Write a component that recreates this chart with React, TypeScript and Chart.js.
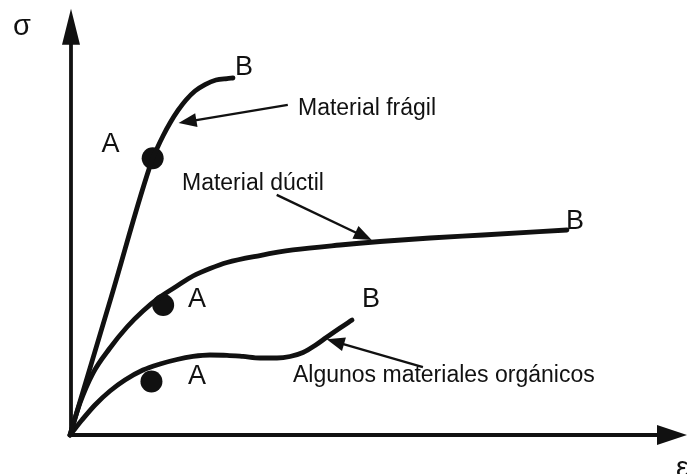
import React, { useEffect, useRef } from "react";
import { Chart, registerables } from "chart.js";

Chart.register(...registerables);

// Curves (strain x, stress y), arbitrary units 0..100
const brittleX = [0, 6.7, 13.4, 14.1, 15.07, 16.21, 17.5, 18.8, 20.26, 21.88, 23.66, 25.45, 26.42];
const brittleY = [0, 31.8, 63.6, 65.86, 68.74, 71.72, 74.6, 77.01, 79.08, 80.57, 81.61, 81.95, 82.07];

const ductileX = [0, 1.62, 3.73, 6.48, 9.24, 11.83, 14.59, 17.34, 19.94, 22.69, 25.45, 30.79, 36.14, 43.76, 50.24, 58.35, 66.94, 80.55];
const ductileY = [0, 7.36, 14.25, 20.0, 24.83, 28.51, 31.72, 34.25, 36.55, 38.28, 39.66, 41.26, 42.53, 43.68, 44.48, 45.29, 45.98, 47.13];

const organicX = [0, 1.94, 4.05, 6.48, 8.91, 11.83, 14.59, 17.34, 19.94, 22.69, 25.45, 28.04, 30.79, 33.55, 35.66, 37.76, 39.71, 41.65, 43.76, 45.71];
const organicY = [0, 3.45, 6.9, 10.11, 12.64, 14.94, 16.32, 17.36, 18.05, 18.39, 18.32, 18.05, 17.7, 17.7, 18.05, 18.97, 20.57, 22.53, 24.6, 26.44];

// Points "A"
const pointAX = [13.4, 15.1, 13.2];
const pointAY = [63.6, 29.9, 12.3];

// Letter labels
const letterTexts = ["A", "B", "A", "B", "A", "B"];
const letterX = [5.1, 26.74, 19.12, 80.39, 19.12, 47.33];
const letterY = [65.06, 82.76, 29.43, 47.36, 11.72, 29.43];

// Notes with arrows
const noteTexts = ["Material frágil", "Material dúctil", "Algunos materiales orgánicos"];
const noteX = [36.95, 18.15, 36.14];
const noteY = [73.56, 56.32, 12.18];
const arrowFromX = [35.3, 33.5, 57.2];
const arrowFromY = [75.9, 55.2, 15.6];
const arrowToX = [17.6, 48.9, 41.6];
const arrowToY = [71.7, 44.8, 22.0];

// Axis labels
const axisLabelTexts = ["σ", "ε"];
const axisLabelX = [-9.24, 98.2];
const axisLabelY = [91.95, -9.66];
const axisXEnd = 100;
const axisYEnd = 98;

const INK = "#111111";
const FONT = "'Liberation Sans', Arial, sans-serif";

function pts(xs: number[], ys: number[]) {
  return xs.map((x, i) => ({ x, y: ys[i] }));
}

function drawArrowHead(ctx: CanvasRenderingContext2D, fx: number, fy: number, tx: number, ty: number, len: number, half: number) {
  const ang = Math.atan2(ty - fy, tx - fx);
  const bx = tx - len * Math.cos(ang);
  const by = ty - len * Math.sin(ang);
  ctx.beginPath();
  ctx.moveTo(tx, ty);
  ctx.lineTo(bx + half * Math.sin(ang), by - half * Math.cos(ang));
  ctx.lineTo(bx - half * Math.sin(ang), by + half * Math.cos(ang));
  ctx.closePath();
  ctx.fill();
}

const sketchPlugin = {
  id: "sketch",
  beforeDatasetsDraw(chart: any) {
    const { ctx, scales } = chart;
    const px = (v: number) => scales.x.getPixelForValue(v);
    const py = (v: number) => scales.y.getPixelForValue(v);
    ctx.save();
    ctx.strokeStyle = INK;
    ctx.fillStyle = INK;
    ctx.lineWidth = 3.8;
    ctx.lineCap = "butt";
    // y axis
    ctx.beginPath();
    ctx.moveTo(px(0) + 1, py(0) + 1.5);
    ctx.lineTo(px(0) + 1, py(axisYEnd) + 20);
    ctx.stroke();
    drawArrowHead(ctx, px(0) + 1, py(0), px(0) + 1, py(axisYEnd), 36, 9);
    // x axis
    ctx.beginPath();
    ctx.moveTo(px(0) - 1.5, py(0));
    ctx.lineTo(px(axisXEnd) - 20, py(0));
    ctx.stroke();
    drawArrowHead(ctx, px(0), py(0), px(axisXEnd), py(0), 30, 10);
    ctx.restore();
  },
  afterDatasetsDraw(chart: any) {
    const { ctx, scales } = chart;
    const px = (v: number) => scales.x.getPixelForValue(v);
    const py = (v: number) => scales.y.getPixelForValue(v);
    ctx.save();
    ctx.fillStyle = INK;
    ctx.strokeStyle = INK;
    ctx.textAlign = "left";
    ctx.textBaseline = "alphabetic";
    // letters
    ctx.font = `27px ${FONT}`;
    letterTexts.forEach((t, i) => ctx.fillText(t, px(letterX[i]), py(letterY[i])));
    // notes
    ctx.font = `23px ${FONT}`;
    noteTexts.forEach((t, i) => ctx.fillText(t, px(noteX[i]), py(noteY[i])));
    // arrows
    ctx.lineWidth = 2.4;
    noteTexts.forEach((_, i) => {
      const fx = px(arrowFromX[i]);
      const fy = py(arrowFromY[i]);
      const tx = px(arrowToX[i]);
      const ty = py(arrowToY[i]);
      const ang = Math.atan2(ty - fy, tx - fx);
      ctx.beginPath();
      ctx.moveTo(fx, fy);
      ctx.lineTo(tx - 12 * Math.cos(ang), ty - 12 * Math.sin(ang));
      ctx.stroke();
      drawArrowHead(ctx, fx, fy, tx, ty, 18, 7);
    });
    // axis labels
    ctx.font = `29px ${FONT}`;
    axisLabelTexts.forEach((t, i) => ctx.fillText(t, px(axisLabelX[i]), py(axisLabelY[i])));
    ctx.restore();
  },
};

export default function App() {
  const ref = useRef<HTMLCanvasElement | null>(null);
  useEffect(() => {
    if (!ref.current) return;
    const curve = (xs: number[], ys: number[]) => ({
      type: "line" as const,
      data: pts(xs, ys),
      borderColor: INK,
      borderWidth: 4.8,
      pointRadius: 0,
      fill: false,
      cubicInterpolationMode: "monotone" as const,
      borderCapStyle: "round" as const,
      borderJoinStyle: "round" as const,
      clip: false as any,
    });
    const chart = new Chart(ref.current, {
      type: "line",
      data: {
        datasets: [
          curve(brittleX, brittleY),
          curve(ductileX, ductileY),
          curve(organicX, organicY),
          {
            type: "scatter" as const,
            data: pts(pointAX, pointAY),
            backgroundColor: INK,
            borderColor: INK,
            borderWidth: 0,
            pointRadius: 11,
            clip: false as any,
          } as any,
        ],
      },
      options: {
        animation: false,
        responsive: true,
        maintainAspectRatio: false,
        layout: { autoPadding: false, padding: { left: 70, right: 0, top: 0, bottom: 39 } },
        scales: {
          x: { type: "linear", min: 0, max: 100, display: false },
          y: { type: "linear", min: 0, max: 100, display: false },
        },
        plugins: { legend: { display: false }, tooltip: { enabled: false } },
        events: [],
      },
      plugins: [sketchPlugin],
    });
    return () => chart.destroy();
  }, []);
  return (
    <div style={{ position: "fixed", left: 0, top: 0, width: 687, height: 474, background: "#fff" }}>
      <canvas ref={ref} />
    </div>
  );
}
